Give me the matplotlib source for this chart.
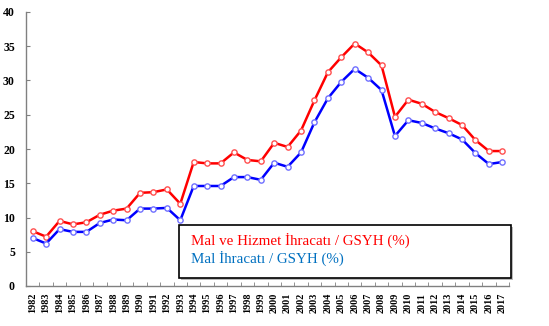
import numpy as np
import matplotlib
matplotlib.use("Agg")
import matplotlib.pyplot as plt
from matplotlib.patches import Rectangle

# Years and ratios (% of GDP)
years = list(range(1982, 2018))
mal_hizmet = [8.0, 7.2, 9.5, 9.0, 9.3, 10.4, 11.0, 11.3, 13.6, 13.7, 14.1, 12.0,
              18.1, 17.9, 17.9, 19.5, 18.4, 18.2, 20.9, 20.3, 22.7, 27.1,
              31.2, 33.4, 35.4, 34.1, 32.2, 24.7, 27.2, 26.6, 25.4, 24.5,
              23.5, 21.3, 19.7, 19.7]
mal = [7.0, 6.2, 8.3, 7.9, 7.9, 9.2, 9.7, 9.6, 11.3, 11.3, 11.4, 9.6,
       14.6, 14.6, 14.6, 15.9, 15.9, 15.5, 18.0, 17.4, 19.5, 23.9,
       27.4, 29.8, 31.7, 30.4, 28.6, 21.9, 24.2, 23.8, 23.0, 22.3,
       21.4, 19.4, 17.8, 18.1]
labels = ["Mal ve Hizmet İhracatı / GSYH (%)", "Mal İhracatı / GSYH (%)"]

plt.rcParams['font.family'] = ['Liberation Serif', 'DejaVu Serif']

W, H = 549, 326
fig = plt.figure(figsize=(W / 100, H / 100), dpi=100)
ax = fig.add_axes([26 / W, 1 - 286 / H, (509 - 26) / W, (286 - 12) / H])

x = np.arange(len(years))
ax.plot(x, mal_hizmet, color='#FF0000', lw=1.8, marker='o', ms=3.8,
        mfc='white', mec='#FF5050', mew=1.0)
ax.plot(x, mal, color='#0000FF', lw=1.8, marker='o', ms=3.8,
        mfc='white', mec='#7070FF', mew=1.0)

ax.set_xlim(-0.5, len(years) - 0.5)
ax.set_ylim(0, 40)
ax.set_yticks(range(0, 41, 5))
ax.set_yticklabels([str(v) for v in range(0, 41, 5)], fontsize=8.5, fontweight='bold')
ax.set_xticks(x)
ax.set_xticklabels([str(y) for y in years], rotation=90, fontsize=7.3, fontweight='bold')
ax.set_xticks(np.arange(-0.5, len(years)), minor=True)
ax.tick_params(axis='x', which='major', length=0, pad=5)
ax.tick_params(axis='x', which='minor', direction='in', length=3, color='#808080')
ax.tick_params(axis='y', direction='in', length=3, color='#808080', pad=8)

for s in ['top', 'right']:
    ax.spines[s].set_visible(False)
for s in ['left', 'bottom']:
    ax.spines[s].set_color('#808080')
    ax.spines[s].set_linewidth(1.0)

# legend box
bx0, bx1, by0, by1 = 179, 511, 225, 278
fig.patches.append(Rectangle(((bx0 + 2) / W, 1 - (by1 + 2) / H), (bx1 - bx0) / W,
                             (by1 - by0) / H, transform=fig.transFigure,
                             facecolor='#BBBBBB', edgecolor='none', zorder=5))
fig.patches.append(Rectangle((bx0 / W, 1 - by1 / H), (bx1 - bx0) / W,
                             (by1 - by0) / H, transform=fig.transFigure,
                             facecolor='white', edgecolor='black', lw=1.2, zorder=6))
fig.text(191 / W, 1 - 240 / H, labels[0], color='#FF0000', fontsize=10.8,
         va='center', ha='left', zorder=7)
fig.text(191 / W, 1 - 258 / H, labels[1], color='#0070C0', fontsize=10.8,
         va='center', ha='left', zorder=7)

fig.savefig('out.png', dpi=100)
